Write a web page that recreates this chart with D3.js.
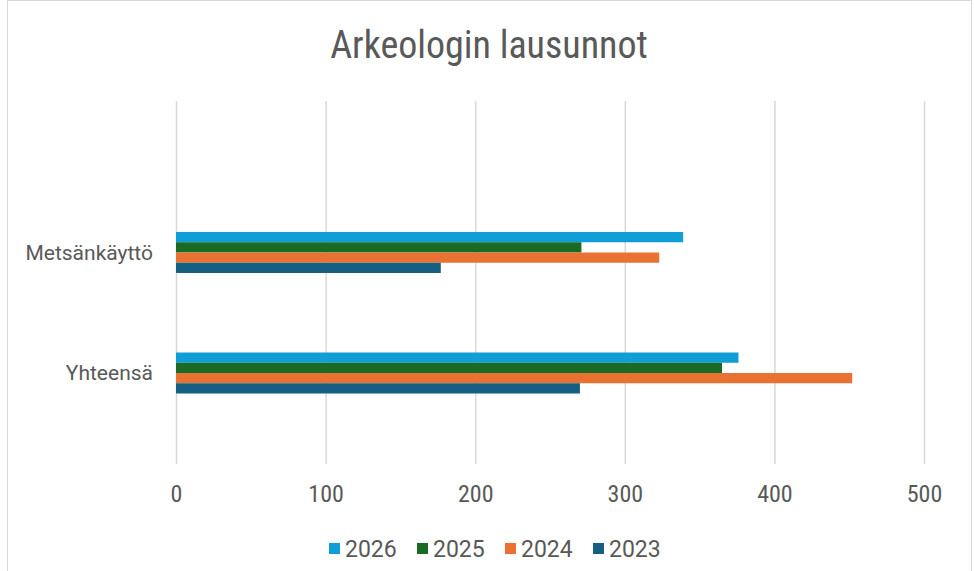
<!DOCTYPE html>
<html>
<head>
<meta charset="utf-8">
<script src="https://cdn.jsdelivr.net/npm/d3@7"></script>
<style>
  body { margin: 0; background: #fff; }
  text { fill: #595959; }
  .narrow { font-family: "Liberation Sans Narrow", "Roboto Condensed", "Liberation Sans", sans-serif; }
  .reg { font-family: "Roboto", "Liberation Sans", sans-serif; }
</style>
</head>
<body>
<div id="chart"></div>
<script>
// data
var categories = ["Metsänkäyttö", "Yhteensä"];
var seriesNames = ["2026", "2025", "2024", "2023"];
var seriesColors = ["#0F9ED5", "#196B24", "#E97132", "#156082"];
var values = {
    "Metsänkäyttö": [339, 271, 323, 177],
    "Yhteensä":     [376, 365, 452, 270]
};
var xTicks = [0, 100, 200, 300, 400, 500];

function barChart(){
    var W = 974, H = 571;
    var margin = { left:176, right:50, top:101, bottom:107 };
    var width = W - margin.left - margin.right,
        height = H - margin.top - margin.bottom;

    var svg = d3.select("#chart")
        .append("svg")
            .attr("width", W)
            .attr("height", H);

    // outer chart border
    svg.append("rect")
        .attr("x", 7.5).attr("y", 0.5)
        .attr("width", 964).attr("height", H + 10)
        .attr("fill", "#fff")
        .attr("stroke", "#d9d9d9");

    // title
    svg.append("text")
        .attr("class", "narrow")
        .attr("x", 489)
        .attr("y", 58)
        .attr("font-size", "38px")
        .attr("text-anchor", "middle")
        .text("Arkeologin lausunnot");

    var g = svg.append("g")
        .attr("transform", "translate(" + margin.left + "," + margin.top + ")");

    var x = d3.scaleLinear().domain([0, 500]).range([0, width]);
    // category centres, group of bars inside
    var y = d3.scalePoint().domain(categories).range([151.5, 272]);
    var ySeries = d3.scaleBand().domain(seriesNames).range([-20.5, 20.5]);

    // gridlines
    var grid = g.append("g")
        .call(d3.axisBottom(x).tickValues(xTicks).tickSize(-height).tickFormat(""))
        .attr("transform", "translate(0," + height + ")");
    grid.select(".domain").remove();
    grid.selectAll("line").attr("stroke", "#d9d9d9").attr("stroke-width", 1.5);

    // x axis labels
    var xAxis = g.append("g")
        .attr("class", "narrow")
        .attr("transform", "translate(0," + height + ")")
        .call(d3.axisBottom(x).tickValues(xTicks).tickSize(0).tickPadding(21));
    xAxis.select(".domain").remove();
    xAxis.selectAll("text").attr("font-size", "24px").attr("font-family", null);

    // category labels
    var yAxis = g.append("g")
        .attr("class", "reg")
        .call(d3.axisLeft(y).tickSize(0).tickPadding(23));
    yAxis.select(".domain").remove();
    yAxis.selectAll("text").attr("font-size", "21px").attr("font-family", null);

    // bars
    var groups = g.selectAll(".grp")
        .data(categories)
        .enter().append("g")
            .attr("class", "grp")
            .attr("transform", function(c){ return "translate(0," + y(c) + ")"; });

    groups.selectAll("rect")
        .data(function(c){
            return seriesNames.map(function(s, i){ return { s: s, v: values[c][i], i: i }; });
        })
        .enter().append("rect")
            .attr("x", x(0))
            .attr("y", function(d){ return ySeries(d.s); })
            .attr("width", function(d){ return x(d.v) - x(0); })
            .attr("height", ySeries.bandwidth())
            .attr("fill", function(d){ return seriesColors[d.i]; });

    // legend
    var legend = svg.append("g")
        .attr("class", "reg")
        .attr("transform", "translate(329,549)");
    var items = legend.selectAll("g")
        .data(seriesNames)
        .enter().append("g")
            .attr("transform", function(d, i){ return "translate(" + (i * 88) + ",0)"; });
    items.append("rect")
        .attr("x", 0).attr("y", -6)
        .attr("width", 11).attr("height", 11)
        .attr("fill", function(d, i){ return seriesColors[i]; });
    items.append("text")
        .attr("x", 16).attr("y", 0)
        .attr("dy", "0.35em")
        .attr("font-size", "23px")
        .text(function(d){ return d; });
}

barChart();
</script>
</body>
</html>
